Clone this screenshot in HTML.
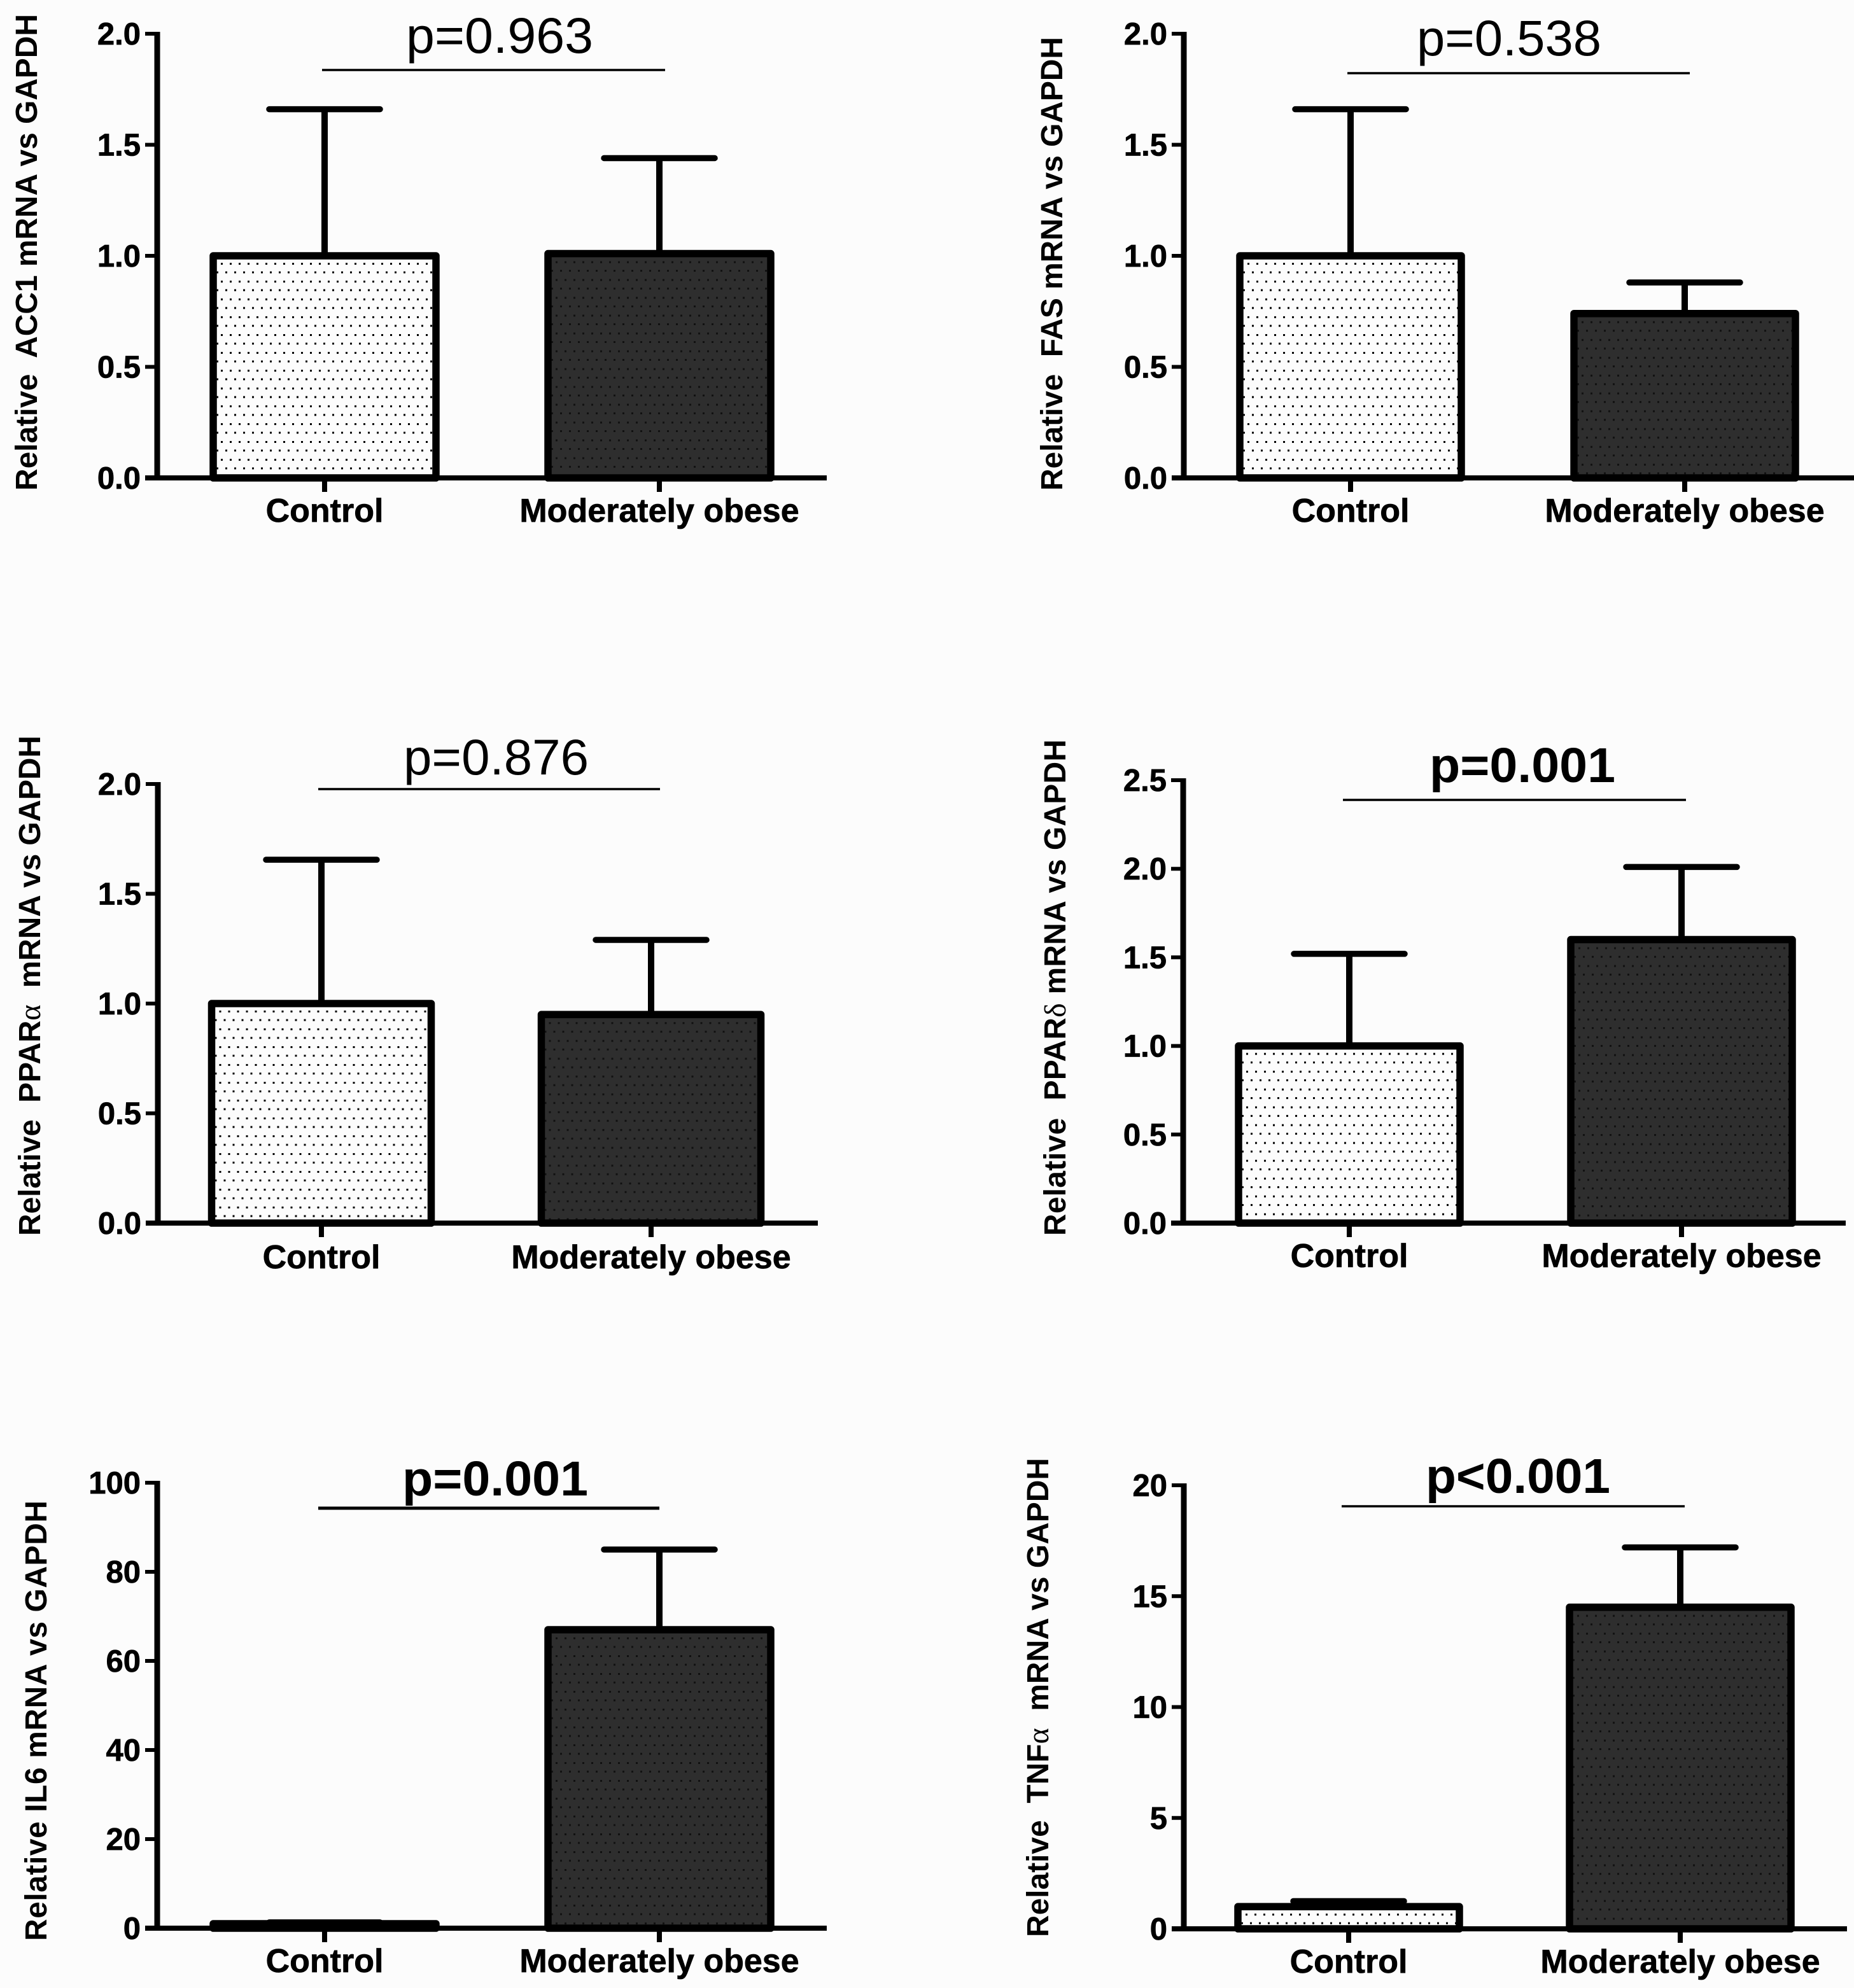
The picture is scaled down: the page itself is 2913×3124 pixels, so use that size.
<!DOCTYPE html>
<html lang="en">
<head>
<meta charset="utf-8">
<title>Relative mRNA expression: control vs moderately obese</title>
<style>
html,body{margin:0;padding:0;background:#fcfcfc;}
svg{display:block;}
text{font-family:"Liberation Sans",sans-serif;fill:#000;white-space:pre;}
</style>
</head>
<body>
<svg id="figure" xmlns="http://www.w3.org/2000/svg" width="2913" height="3124" viewBox="0 0 2913 3124">
<rect x="0" y="0" width="2913" height="3124" fill="#fcfcfc"/>
<defs id="defs"></defs>
</svg>
<script>
// ---------- data ----------
const panelNames = ['acc1', 'fas', 'ppar-alpha', 'ppar-delta', 'il6', 'tnf-alpha'];
const categories = ['Control', 'Moderately obese'];
const controlMeans = [1.0, 1.0, 1.0, 1.0, 1.0, 1.0];
const controlUpper = [1.66, 1.66, 1.655, 1.52, 1.3, 1.25];
const obeseMeans = [1.01, 0.74, 0.95, 1.6, 67, 14.5];
const obeseUpper = [1.44, 0.88, 1.29, 2.01, 85, 17.2];
const axisMaxes = [2, 2, 2, 2.5, 100, 20];
const tickLabels = [
  ['0.0', '0.5', '1.0', '1.5', '2.0'],
  ['0.0', '0.5', '1.0', '1.5', '2.0'],
  ['0.0', '0.5', '1.0', '1.5', '2.0'],
  ['0.0', '0.5', '1.0', '1.5', '2.0', '2.5'],
  ['0', '20', '40', '60', '80', '100'],
  ['0', '5', '10', '15', '20']
];
const pValueLabels = ['p=0.963', 'p=0.538', 'p=0.876', 'p=0.001', 'p=0.001', 'p<0.001'];
const pValueBold = [false, false, false, true, true, true];
const yTitleStart = ['Relative  ACC1 mRNA vs GAPDH', 'Relative  FAS mRNA vs GAPDH', 'Relative  PPAR', 'Relative  PPAR', 'Relative IL6 mRNA vs GAPDH', 'Relative  TNF'];
const yTitleGreek = ['', '', 'α', 'δ', '', 'α'];
const yTitleEnd = ['', '', '  mRNA vs GAPDH', ' mRNA vs GAPDH', '', '  mRNA vs GAPDH'];

// ---------- layout (page geometry of each panel, not data) ----------
const panelLayouts = [
  {axisX:247, y0:751, yTop:53, xEnd:1299, cx:[510,1036], half:175, sig:[506,1045,110,3.5], pX:[638,932], pY:83, labelY:820, yt:[58,771,22], font:[52,49]},
  {axisX:1860, y0:751, yTop:53, xEnd:2913, cx:[2122,2647], half:174, sig:[2117,2655,115,3.5], pX:[2226,2516], pY:87, labelY:820, yt:[1669,771,58], font:[52,49]},
  {axisX:248, y0:1922, yTop:1232, xEnd:1285, cx:[505,1023], half:172.5, sig:[500,1037,1240,3.5], pX:[634,925], pY:1217, labelY:1993, yt:[63,1942,1156], font:[52,49]},
  {axisX:1859, y0:1922, yTop:1226, xEnd:2900, cx:[2120,2642], half:174, sig:[2110,2649,1257,3.5], pX:[2246,2538], pY:1229, labelY:1991, yt:[1674,1942,1162], font:[52,49]},
  {axisX:247, y0:3030, yTop:2330, xEnd:1299, cx:[510,1036], half:175, sig:[500,1036,2370,5], pX:[632,924], pY:2350, labelY:3099, yt:[73,3050,2358], font:[52,49]},
  {axisX:1860, y0:3031, yTop:2334, xEnd:2902, cx:[2119,2640], half:174, sig:[2108,2647,2367,3.5], pX:[2240,2530], pY:2346, labelY:3100, yt:[1647,3044,2291], font:[52,49]}
];

// ---------- drawing ----------
const SVG_NS = 'http://www.w3.org/2000/svg';
const root = document.getElementById('figure');
const defs = document.getElementById('defs');

function svgEl(tag, attrs, parent) {
  const el = document.createElementNS(SVG_NS, tag);
  for (const k in attrs) el.setAttribute(k, attrs[k]);
  if (parent) parent.appendChild(el);
  return el;
}
function yScale(p, v) {
  const l = panelLayouts[p];
  return l.y0 - (v / axisMaxes[p]) * (l.y0 - l.yTop);
}
function lineEl(parent, x1, y1, x2, y2, w, cap) {
  return svgEl('line', {x1:x1, y1:y1, x2:x2, y2:y2, stroke:'#000', 'stroke-width':w, 'stroke-linecap':cap || 'butt'}, parent);
}
function makeDotPattern(id, x, y, bg, dot, dy) {
  const pat = svgEl('pattern', {id:id, patternUnits:'userSpaceOnUse', x:x + 1, y:y + dy, width:14, height:28}, defs);
  svgEl('rect', {x:0, y:0, width:14, height:28, fill:bg}, pat);
  svgEl('rect', {x:11, y:11, width:3, height:3, fill:dot}, pat);
  svgEl('rect', {x:4, y:24.5, width:3, height:3, fill:dot}, pat);
}

function drawBar(g, p, i, mean, upper) {
  const l = panelLayouts[p];
  const cx = l.cx[i];
  const top = yScale(p, mean);
  const capY = yScale(p, upper);
  const left = cx - l.half;
  const light = i === 0;
  const patId = 'dots-' + p + '-' + i;
  makeDotPattern(patId, left, top, light ? '#fcfcfc' : '#2e2e2e', light ? '#000' : '#111', light ? 0 : 1);

  const stem = lineEl(g, cx, top, cx, capY, 10);
  
  

  const cap = lineEl(g, cx - 87, capY, cx + 87, capY, 9.5, 'round');
  
  

  const bar = svgEl('rect', {x:left, y:top, width:l.half * 2, height:Math.max(0, l.y0 - top),
    fill:'url(#' + patId + ')', stroke:'#000', 'stroke-width':11.5, 'stroke-linejoin':'round'}, g);
  
  
}

panelNames.forEach(function (name, p) {
  const l = panelLayouts[p];
  const g = svgEl('g', {}, root);
  
  

  drawBar(g, p, 0, controlMeans[p], controlUpper[p]);
  drawBar(g, p, 1, obeseMeans[p], obeseUpper[p]);

  const yAxis = lineEl(g, l.axisX, l.yTop - 3, l.axisX, l.y0 + 4, 9);
  
  

  const xAxis = lineEl(g, l.axisX - 19, l.y0, l.xEnd, l.y0, 8);
  
  

  tickLabels[p].forEach(function (label) {
    const v = parseFloat(label);
    const y = yScale(p, v);
    const tick = lineEl(g, l.axisX - 19, y, l.axisX, y, 6);
    
    

    const t = svgEl('text', {x:l.axisX - 26, y:y + 17, 'text-anchor':'end', 'font-weight':'bold', 'font-size':l.font[1], stroke:'#000', 'stroke-width':0.7}, g);
    t.textContent = label;
    
    
  });

  categories.forEach(function (cat, i) {
    const tick = lineEl(g, l.cx[i], l.y0, l.cx[i], l.y0 + 22, 8);
    
    

    const t = svgEl('text', {x:l.cx[i], y:l.labelY, 'text-anchor':'middle', 'font-weight':'bold', 'font-size':l.font[0], stroke:'#000', 'stroke-width':0.7}, g);
    t.textContent = cat;
    
    
  });

  const sig = lineEl(g, l.sig[0], l.sig[2], l.sig[1], l.sig[2], l.sig[3]);
  
  

  const pText = svgEl('text', {x:l.pX[0], y:l.pY, 'font-size':pValueBold[p] ? 77 : 79,
    'font-weight':pValueBold[p] ? 'bold' : 'normal', textLength:l.pX[1] - l.pX[0], lengthAdjust:'spacingAndGlyphs'}, g);
  pText.textContent = pValueLabels[p];
  
  

  const yt = l.yt;
  const title = svgEl('text', {x:yt[0], y:yt[1], transform:'rotate(-90 ' + yt[0] + ' ' + yt[1] + ')',
    'font-size':48, 'font-weight':'bold', textLength:yt[1] - yt[2], lengthAdjust:'spacing'}, g);
  
  
  title.appendChild(document.createTextNode(yTitleStart[p]));
  if (yTitleGreek[p]) {
    const greek = svgEl('tspan', {'font-weight':'normal', style:'font-family:"Liberation Serif",serif'}, title);
    greek.textContent = yTitleGreek[p];
    title.appendChild(document.createTextNode(yTitleEnd[p]));
  }
});
</script>
</body>
</html>
